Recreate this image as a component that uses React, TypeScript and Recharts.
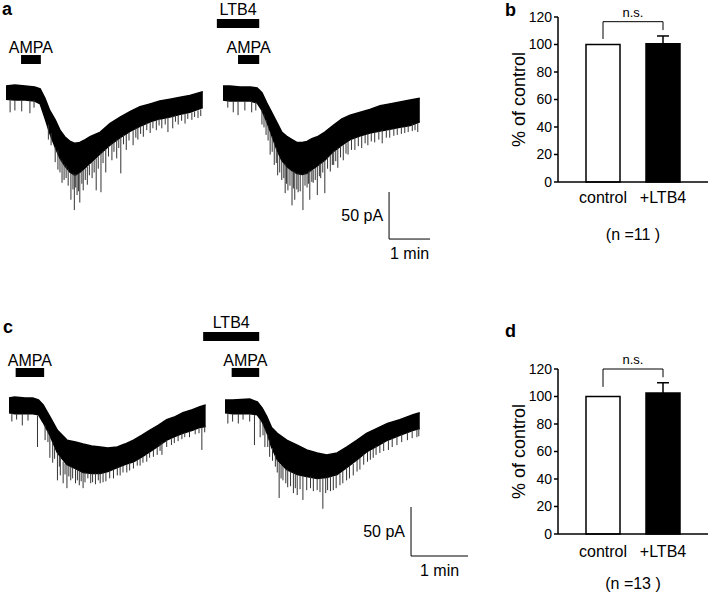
import {
  ComposedChart,
  Area,
  XAxis,
  YAxis,
  ReferenceArea,
  ReferenceLine,
  BarChart,
  Bar,
  Cell,
  ErrorBar,
} from "recharts";

const FONT = '"Liberation Sans", Arial, Helvetica, sans-serif';

// ---- whole-cell current traces (time in s, current in pA, 0 = baseline top) ----
// a, control
const a1Time = [0, 13, 28, 42, 50, 57, 64, 72, 79, 86, 94, 101, 108, 116, 123, 138, 152, 167, 182, 196, 211, 225, 240, 255, 269, 288];
const a1Top = [0, 1, 0, -1, -3, -13, -26, -36, -47, -54, -59, -61, -60, -57, -54, -49, -40, -33, -27, -22, -19, -16, -14, -12, -10, -6];
const a1Bottom = [-14, -15, -15, -16, -19, -34, -50, -65, -77, -85, -92, -95, -92, -87, -82, -72, -63, -55, -48, -43, -38, -35, -33, -30, -28, -23];
// [time, from, to] of the fast inward events
const a1Spikes: [number, number, number][] = [
  [6, -14, -28], [13, -15, -26], [23, -15, -27], [35, -15, -29], [41, -15, -23], [62, -41, -57],
  [66, -50, -63], [72, -65, -81], [76, -68, -89], [79, -77, -92], [82, -79, -103], [85, -83, -100],
  [88, -85, -98], [91, -88, -106], [95, -92, -121], [98, -93, -110], [100, -94, -132], [102, -94, -108],
  [104, -94, -116], [106, -93, -112], [108, -92, -124], [111, -90, -104], [113, -89, -111], [116, -88, -100],
  [119, -86, -105], [122, -84, -95], [126, -81, -98], [129, -79, -92], [132, -77, -111], [135, -75, -88],
  [139, -71, -113], [142, -69, -82], [146, -67, -92], [150, -64, -75], [155, -61, -79], [158, -59, -70],
  [162, -57, -77], [165, -56, -66], [168, -54, -93], [172, -52, -62], [176, -51, -68], [180, -49, -58],
  [186, -47, -63], [190, -45, -55], [193, -44, -57], [197, -43, -51], [201, -41, -54], [206, -39, -47],
  [211, -38, -50], [215, -37, -45], [220, -36, -47], [224, -35, -42], [228, -35, -45], [233, -34, -41],
  [237, -33, -49], [244, -32, -45], [248, -31, -38], [252, -31, -41], [257, -30, -37], [262, -29, -40],
  [266, -29, -35], [272, -28, -36], [276, -27, -33], [281, -26, -34], [285, -25, -32],
];

// a, + LTB4
const a2Time = [0, 10, 25, 40, 50, 57, 64, 72, 79, 86, 94, 101, 108, 116, 123, 130, 138, 149, 161, 174, 186, 201, 215, 230, 244, 259, 274, 288];
const a2Top = [0, 0, -1, -1, -2, -7, -18, -29, -39, -49, -54, -57, -60, -60, -59, -56, -54, -49, -42, -35, -31, -28, -25, -21, -19, -17, -15, -13];
const a2Bottom = [-15, -16, -16, -16, -18, -26, -38, -54, -68, -79, -86, -90, -93, -94, -93, -89, -85, -79, -70, -63, -57, -53, -50, -48, -46, -44, -42, -38];
const a2Spikes: [number, number, number][] = [
  [7, -15, -23], [15, -16, -28], [22, -16, -31], [32, -16, -26], [42, -16, -28], [48, -17, -26],
  [57, -26, -41], [60, -30, -44], [63, -36, -52], [66, -42, -58], [69, -49, -73], [72, -54, -70],
  [75, -60, -84], [78, -66, -82], [80, -70, -95], [83, -75, -92], [86, -79, -100], [89, -82, -98],
  [91, -83, -114], [93, -86, -104], [95, -87, -111], [98, -89, -106], [101, -90, -127], [103, -91, -109],
  [105, -91, -121], [108, -93, -110], [110, -93, -113], [113, -94, -112], [117, -94, -132], [120, -93, -106],
  [123, -93, -108], [125, -91, -104], [127, -90, -121], [130, -89, -102], [132, -89, -103], [135, -87, -100],
  [138, -85, -116], [141, -83, -96], [143, -82, -98], [146, -80, -92], [149, -79, -114], [153, -76, -88],
  [157, -73, -91], [160, -71, -84], [162, -69, -84], [165, -68, -80], [168, -66, -87], [172, -64, -76],
  [176, -63, -79], [180, -61, -72], [183, -59, -73], [188, -57, -68], [193, -55, -68], [198, -54, -64],
  [203, -53, -66], [208, -52, -61], [212, -51, -63], [217, -50, -59], [222, -49, -60], [228, -48, -57],
  [233, -47, -61], [239, -47, -55], [244, -46, -55], [250, -45, -53], [255, -45, -52], [261, -44, -51],
  [266, -43, -50], [271, -42, -49], [277, -40, -48], [281, -40, -47], [285, -39, -49],
];

// c, control
const c1Time = [0, 6, 17, 25, 31, 36, 43, 51, 61, 70, 78, 87, 96, 104, 114, 122, 131, 140, 148, 157, 166, 175, 183, 193, 201, 207];
const c1Top = [0, 1, 0, 0, -2, -7, -19, -33, -43, -45, -47, -49, -50, -51, -50, -47, -43, -38, -33, -28, -22, -19, -15, -12, -9, -7];
const c1Bottom = [-15, -16, -16, -16, -17, -25, -38, -56, -68, -72, -76, -77, -77, -75, -71, -68, -65, -60, -55, -49, -43, -39, -36, -33, -30, -29];
const c1Spikes: [number, number, number][] = [
  [3, -15, -24], [8, -16, -22], [14, -16, -28], [20, -16, -23], [30, -18, -50], [38, -28, -43],
  [41, -33, -45], [43, -39, -61], [46, -45, -66], [48, -50, -62], [51, -56, -84], [53, -59, -70],
  [54, -61, -79], [57, -65, -87], [59, -67, -78], [61, -68, -92], [63, -69, -80], [65, -70, -84],
  [67, -71, -82], [70, -72, -87], [72, -73, -84], [74, -74, -89], [76, -75, -85], [78, -76, -92],
  [80, -76, -86], [83, -77, -82], [86, -77, -87], [88, -77, -86], [91, -77, -88], [94, -77, -84],
  [96, -77, -87], [99, -76, -86], [102, -76, -85], [106, -74, -82], [110, -73, -82], [114, -71, -79],
  [117, -70, -79], [120, -69, -76], [124, -68, -76], [127, -66, -74], [131, -65, -72], [135, -63, -69],
  [138, -62, -69], [141, -60, -66], [145, -58, -65], [148, -55, -61], [152, -53, -60], [156, -50, -58],
  [159, -47, -54], [161, -45, -58], [166, -43, -50], [171, -42, -48], [174, -40, -46], [178, -38, -44],
  [182, -36, -42], [185, -35, -40], [190, -34, -40], [196, -32, -37], [200, -31, -36], [203, -30, -53],
  [206, -29, -35],
];

// c, + LTB4
const c2Time = [0, 8, 26, 34, 39, 44, 49, 55, 65, 76, 86, 97, 107, 118, 128, 139, 149, 160, 171, 184, 198, 205];
const c2Top = [0, 0, 1, -2, -8, -17, -28, -34, -41, -46, -51, -54, -56, -54, -48, -41, -34, -29, -24, -20, -15, -13];
const c2Bottom = [-13, -14, -14, -15, -22, -33, -48, -61, -71, -76, -78, -80, -79, -76, -69, -61, -53, -47, -41, -36, -31, -29];
const c2Spikes: [number, number, number][] = [
  [3, -13, -24], [8, -14, -22], [14, -14, -24], [19, -14, -20], [26, -14, -22], [31, -15, -46],
  [37, -20, -38], [40, -24, -36], [42, -29, -48], [45, -35, -48], [47, -41, -58], [50, -49, -62],
  [53, -56, -68], [55, -61, -74], [57, -64, -100], [59, -66, -80], [61, -67, -82], [64, -70, -85],
  [66, -71, -89], [69, -73, -88], [72, -74, -95], [74, -75, -90], [76, -76, -97], [79, -77, -91],
  [82, -77, -102], [86, -78, -92], [90, -78, -90], [93, -79, -93], [97, -80, -92], [100, -80, -94],
  [103, -80, -111], [106, -79, -95], [108, -79, -92], [111, -78, -93], [114, -78, -92], [117, -76, -90],
  [121, -75, -87], [124, -72, -85], [128, -69, -82], [131, -67, -80], [135, -65, -77], [139, -61, -73],
  [142, -59, -71], [146, -55, -66], [150, -53, -63], [153, -51, -61], [156, -50, -59], [159, -47, -56],
  [163, -46, -54], [167, -43, -52], [172, -41, -51], [176, -39, -48], [181, -37, -46], [186, -35, -43],
  [192, -33, -41], [197, -31, -39], [202, -30, -38], [204, -29, -37],
];

// drug application periods (s)
const stimA1 = [{ name: "AMPA", start: 22, end: 51 }];
const stimA2 = [
  { name: "LTB4", start: -9, end: 53 },
  { name: "AMPA", start: 22, end: 53 },
];
const stimC1 = [{ name: "AMPA", start: 7, end: 37 }];
const stimC2 = [
  { name: "LTB4", start: -23, end: 36 },
  { name: "AMPA", start: 7, end: 36 },
];

const SCALE_PA = 50;
const SCALE_S = 60;

// ---- summary bars ----
const groups = ["control", "+LTB4"];
const meanB = [100, 100.5];
const semB = [0, 5.7];
const meanD = [100, 102.5];
const semD = [0, 7.5];
const barFills = ["#ffffff", "#000000"];

type Stim = { name: string; start: number; end: number };

type TraceProps = {
  time: number[];
  top: number[];
  bottom: number[];
  spikes: [number, number, number][];
  stims: Stim[];
  rows: Record<string, [number, number]>;
  left: number;
  top0: number;
  width: number;
  height: number;
  xDomain: [number, number];
  yDomain: [number, number];
  scaleBar?: { t: number; i: number };
};

const Trace = (p: TraceProps) => {
  const data = p.time.map((t, i) => ({ t, band: [p.bottom[i], p.top[i]] }));
  return (
    <div style={{ position: "absolute", left: p.left, top: p.top0 }}>
      <ComposedChart
        width={p.width}
        height={p.height}
        data={data}
        margin={{ top: 0, right: 0, bottom: 0, left: 0 }}
      >
        <XAxis type="number" dataKey="t" domain={p.xDomain} allowDataOverflow hide />
        <YAxis type="number" domain={p.yDomain} allowDataOverflow hide />
        {p.spikes.map(([t, from, to], k) => (
          <ReferenceLine
            key={`s${k}`}
            segment={[{ x: t, y: from }, { x: t, y: to }]}
            stroke="#333"
            strokeWidth={1}
            ifOverflow="visible"
          />
        ))}
        <Area
          type="linear"
          dataKey="band"
          stroke="#000"
          strokeWidth={1.5}
          fill="#000"
          fillOpacity={1}
          dot={false}
          activeDot={false}
          isAnimationActive={false}
        />
        {p.stims.map((s) => (
          <ReferenceArea
            key={s.name}
            x1={s.start}
            x2={s.end}
            y1={p.rows[s.name][0]}
            y2={p.rows[s.name][1]}
            fill="#000"
            fillOpacity={1}
            stroke="none"
            ifOverflow="visible"
            label={{
              value: s.name,
              position: "top",
              offset: s.name === "LTB4" ? 4 : 2,
              fontSize: 16,
              fill: "#000",
            }}
          />
        ))}
        {p.scaleBar && (
          <ReferenceLine
            segment={[
              { x: p.scaleBar.t, y: p.scaleBar.i },
              { x: p.scaleBar.t, y: p.scaleBar.i + SCALE_PA },
            ]}
            stroke="#000"
            strokeWidth={1}
            ifOverflow="visible"
            label={{ value: `${SCALE_PA} pA`, position: "left", offset: 6, fontSize: 16, fill: "#000" }}
          />
        )}
        {p.scaleBar && (
          <ReferenceLine
            segment={[
              { x: p.scaleBar.t, y: p.scaleBar.i },
              { x: p.scaleBar.t + SCALE_S, y: p.scaleBar.i },
            ]}
            stroke="#000"
            strokeWidth={1}
            ifOverflow="visible"
            label={{ value: "1 min", position: "bottom", offset: 9, fontSize: 16, fill: "#000" }}
          />
        )}
      </ComposedChart>
    </div>
  );
};

type BarProps = {
  mean: number[];
  sem: number[];
  n: number;
  top0: number;
  height: number;
  marginTop: number;
  marginBottom: number;
  tickGap: number;
  nOffset: number;
  bracket: { top: number; left: number; right: number };
};

const BarPanel = (p: BarProps) => {
  const data = groups.map((g, i) => ({ group: g, mean: p.mean[i], sem: p.sem[i] }));
  return (
    <div style={{ position: "absolute", left: 480, top: p.top0 }}>
      <BarChart
        width={229}
        height={p.height}
        data={data}
        barSize={34}
        margin={{ top: p.marginTop, right: 1, bottom: p.marginBottom, left: 0 }}
      >
        <XAxis
          dataKey="group"
          height={60}
          tickLine={false}
          axisLine={{ stroke: "#000", strokeWidth: 1.5 }}
          tick={{ fontSize: 16, fill: "#000" }}
          tickMargin={p.tickGap}
          padding={{ left: 15, right: 15 }}
          label={{
            value: `(n =${p.n} )`,
            position: "insideBottom",
            offset: p.nOffset,
            fontSize: 16,
            fill: "#000",
          }}
        />
        <YAxis
          width={78}
          domain={[0, 120]}
          ticks={[0, 20, 40, 60, 80, 100, 120]}
          tickSize={4}
          tickLine={{ stroke: "#000", strokeWidth: 1.5 }}
          axisLine={{ stroke: "#000", strokeWidth: 1.5 }}
          tick={{ fontSize: 14, fill: "#000" }}
          label={{ value: "% of control", angle: -90, position: "center", fontSize: 18, fill: "#000" }}
        />
        <Bar dataKey="mean" stroke="#000" strokeWidth={1.5} isAnimationActive={false}>
          {data.map((d, i) => (
            <Cell key={d.group} fill={barFills[i]} />
          ))}
          <ErrorBar dataKey="sem" width={6} stroke="#000" strokeWidth={1.5} direction="y" />
        </Bar>
        <ReferenceLine
          segment={[{ x: groups[0], y: p.bracket.left }, { x: groups[0], y: p.bracket.top }]}
          stroke="#000"
          ifOverflow="visible"
        />
        <ReferenceLine
          segment={[{ x: groups[1], y: p.bracket.right }, { x: groups[1], y: p.bracket.top }]}
          stroke="#000"
          ifOverflow="visible"
        />
        <ReferenceLine
          segment={[{ x: groups[0], y: p.bracket.top }, { x: groups[1], y: p.bracket.top }]}
          stroke="#000"
          ifOverflow="visible"
          label={{ value: "n.s.", position: "top", offset: 5, fontSize: 13, fill: "#000" }}
        />
      </BarChart>
    </div>
  );
};

export default function App() {
  return (
    <div
      style={{
        position: "absolute",
        left: 0,
        top: 0,
        width: 709,
        height: 596,
        background: "#fff",
        fontFamily: FONT,
        overflow: "hidden",
      }}
    >
      <Trace
        time={a1Time}
        top={a1Top}
        bottom={a1Bottom}
        spikes={a1Spikes}
        stims={stimA1}
        rows={{ AMPA: [23.4, 33] }}
        left={0}
        top0={0}
        width={215}
        height={225}
        xDomain={[-8.78, 305.85]}
        yDomain={[-147.87, 91.49]}
      />
      <Trace
        time={a2Time}
        top={a2Top}
        bottom={a2Bottom}
        spikes={a2Spikes}
        stims={stimA2}
        rows={{ AMPA: [23.4, 33], LTB4: [61.7, 71.3] }}
        left={215}
        top0={0}
        width={225}
        height={270}
        xDomain={[-11.71, 317.56]}
        yDomain={[-195.74, 91.49]}
        scaleBar={{ t: 243, i: -162.8 }}
      />
      <Trace
        time={c1Time}
        top={c1Top}
        bottom={c1Bottom}
        spikes={c1Spikes}
        stims={stimC1}
        rows={{ AMPA: [21.4, 30.6] }}
        left={0}
        top0={300}
        width={215}
        height={220}
        xDomain={[-9.47, 216.84]}
        yDomain={[-124.49, 100]}
      />
      <Trace
        time={c2Time}
        top={c2Top}
        bottom={c2Bottom}
        spikes={c2Spikes}
        stims={stimC2}
        rows={{ AMPA: [23.5, 32.7], LTB4: [60.2, 69.4] }}
        left={200}
        top0={300}
        width={280}
        height={290}
        xDomain={[-26.32, 268.41]}
        yDomain={[-193.88, 102.04]}
        scaleBar={{ t: 195.8, i: -159.2 }}
      />
      <BarPanel
        mean={meanB}
        sem={semB}
        n={11}
        top0={0}
        height={250}
        marginTop={17}
        marginBottom={8}
        tickGap={4}
        nOffset={2}
        bracket={{ top: 116.6, left: 104, right: 110.5 }}
      />
      <BarPanel
        mean={meanD}
        sem={semD}
        n={13}
        top0={300}
        height={296}
        marginTop={69}
        marginBottom={2}
        tickGap={6}
        nOffset={5}
        bracket={{ top: 120, left: 107, right: 114 }}
      />
      <svg
        width={709}
        height={596}
        style={{ position: "absolute", left: 0, top: 0, pointerEvents: "none" }}
      >
        <g fontWeight="bold" fontSize={18} fill="#000">
          <text x={2} y={15}>a</text>
          <text x={505} y={16}>b</text>
          <text x={3} y={333}>c</text>
          <text x={505} y={337}>d</text>
        </g>
      </svg>
    </div>
  );
}
